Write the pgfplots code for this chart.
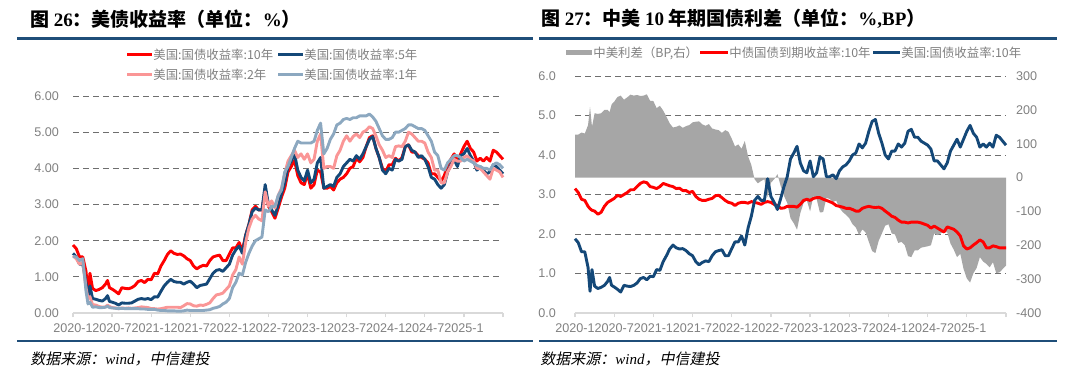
\documentclass[border=0pt]{standalone}
\usepackage{fontspec}
\usepackage{pgfplots}
\usepackage{pgfplotstable}
\pgfplotsset{compat=1.18}
\setmainfont{Liberation Sans}
\newfontfamily\cjk{Noto Sans CJK SC}
\newfontfamily\cjkit{Noto Sans CJK SC}[FakeSlant=0.2]
\newfontfamily\tnr{Liberation Serif}

\definecolor{cRed}{RGB}{255,0,0}
\definecolor{cNavy}{RGB}{20,72,120}
\definecolor{cPink}{RGB}{250,150,150}
\definecolor{cLBlue}{RGB}{140,168,192}
\definecolor{cArea}{RGB}{166,166,166}
\definecolor{cRule}{RGB}{31,78,121}
\definecolor{cTick}{RGB}{128,128,128}
\definecolor{cGrid}{RGB}{110,110,110}
\definecolor{cAxis}{RGB}{217,217,217}
\definecolor{cLeg}{RGB}{128,128,128}

% US Treasury yields: m = months since 2020-01
\pgfplotstableread{
m t10 t5 t2 t1
0 1.88 1.65 1.58 1.56
0.5 1.78 1.55 1.50 1.55
1 1.55 1.35 1.35 1.45
1.5 1.55 1.35 1.40 1.50
2 1.15 0.85 0.70 0.60
2.3 0.55 0.45 0.40 0.25
2.6 1.10 0.75 0.45 0.30
3 0.68 0.40 0.23 0.16
3.5 0.62 0.38 0.22 0.17
4 0.65 0.35 0.18 0.15
4.5 0.70 0.33 0.16 0.15
5 0.80 0.40 0.17 0.16
5.3 0.90 0.48 0.22 0.19
5.6 0.70 0.32 0.18 0.15
6 0.66 0.30 0.15 0.14
6.5 0.60 0.27 0.14 0.13
7 0.53 0.22 0.12 0.12
7.5 0.70 0.28 0.14 0.13
8 0.68 0.27 0.13 0.12
8.5 0.67 0.27 0.14 0.12
9 0.70 0.28 0.13 0.12
9.5 0.76 0.33 0.14 0.12
10 0.87 0.38 0.15 0.12
10.5 0.90 0.40 0.17 0.11
11 0.84 0.38 0.16 0.11
11.5 0.93 0.40 0.15 0.10
12 0.92 0.37 0.12 0.10
12.5 1.10 0.45 0.12 0.10
13 1.08 0.44 0.11 0.08
13.5 1.30 0.60 0.12 0.07
14 1.45 0.75 0.14 0.07
14.5 1.62 0.85 0.16 0.06
15 1.72 0.93 0.16 0.06
15.5 1.65 0.87 0.16 0.06
16 1.62 0.85 0.16 0.05
16.5 1.63 0.85 0.15 0.05
17 1.58 0.80 0.20 0.06
17.5 1.50 0.85 0.26 0.08
18 1.45 0.88 0.25 0.07
18.5 1.30 0.80 0.20 0.07
19 1.22 0.70 0.19 0.07
19.5 1.28 0.76 0.22 0.07
20 1.32 0.78 0.21 0.07
20.5 1.30 0.80 0.24 0.08
21 1.45 0.95 0.28 0.09
21.5 1.55 1.10 0.40 0.13
22 1.58 1.18 0.50 0.15
22.5 1.60 1.20 0.52 0.18
23 1.45 1.15 0.55 0.25
23.5 1.45 1.25 0.65 0.30
24 1.63 1.35 0.75 0.40
24.5 1.80 1.60 1.05 0.70
25 1.80 1.75 1.20 0.85
25.5 1.95 1.85 1.55 1.10
26 1.72 1.65 1.35 1.05
26.5 2.15 2.15 1.95 1.40
27 2.45 2.45 2.35 1.65
27.5 2.85 2.80 2.60 1.85
28 2.95 2.90 2.70 2.00
28.5 2.85 2.85 2.60 2.05
29 2.85 2.85 2.55 2.10
29.5 3.40 3.55 3.35 2.85
30 2.95 3.00 2.95 2.80
30.5 2.80 2.85 3.10 2.95
31 2.62 2.70 2.90 2.95
31.5 2.90 3.00 3.25 3.25
32 3.20 3.30 3.45 3.40
32.5 3.45 3.60 3.85 3.90
33 3.90 4.05 4.20 4.05
33.5 4.05 4.20 4.35 4.30
34 4.22 4.40 4.50 4.55
34.5 3.80 3.95 4.30 4.75
35 3.60 3.75 4.40 4.70
35.5 3.55 3.65 4.25 4.70
36 3.85 3.95 4.40 4.70
36.5 3.45 3.60 4.15 4.70
37 3.55 3.70 4.25 4.75
37.5 3.95 4.15 4.75 5.05
38 3.90 4.30 4.95 5.25
38.5 3.45 3.45 4.00 4.40
39 3.45 3.50 4.05 4.55
39.5 3.50 3.55 4.05 4.80
40 3.40 3.50 4.00 4.95
40.5 3.60 3.75 4.35 5.20
41 3.70 3.85 4.50 5.25
41.5 3.75 4.05 4.75 5.35
42 3.85 4.15 4.90 5.38
42.5 4.00 4.25 4.75 5.35
43 4.05 4.20 4.88 5.40
43.5 4.28 4.35 4.95 5.40
44 4.18 4.25 4.85 5.45
44.5 4.30 4.40 5.00 5.45
45 4.60 4.60 5.05 5.45
45.5 4.85 4.80 5.15 5.50
46 4.90 4.88 5.10 5.42
46.5 4.55 4.55 4.90 5.30
47 4.30 4.30 4.65 5.10
47.5 4.00 3.95 4.50 4.90
48 3.90 3.85 4.30 4.80
48.5 4.10 4.00 4.35 4.80
49 4.10 3.95 4.30 4.85
49.5 4.28 4.25 4.60 5.00
50 4.20 4.20 4.62 5.00
50.5 4.30 4.25 4.60 5.05
51 4.60 4.60 4.75 5.10
51.5 4.65 4.65 5.00 5.20
52 4.45 4.50 4.95 5.20
52.5 4.45 4.45 4.85 5.15
53 4.35 4.30 4.75 5.10
53.5 4.30 4.35 4.75 5.10
54 4.25 4.25 4.70 5.05
54.5 4.15 4.05 4.45 4.90
55 3.85 3.75 4.30 4.75
55.5 3.85 3.70 3.95 4.45
56 3.75 3.55 3.95 4.35
56.5 3.65 3.45 3.60 4.00
57 3.80 3.55 3.60 3.95
57.5 4.10 3.90 3.90 4.15
58 4.25 4.10 4.05 4.25
58.5 4.40 4.25 4.25 4.35
59 4.20 4.05 4.20 4.35
59.5 4.40 4.35 4.20 4.30
60 4.60 4.40 4.30 4.20
60.5 4.75 4.55 4.35 4.25
61 4.55 4.35 4.25 4.20
61.5 4.45 4.20 4.20 4.15
62 4.20 3.95 4.00 4.08
62.5 4.28 4.05 4.00 4.05
63 4.20 3.95 3.90 4.00
63.5 4.30 3.85 3.80 4.00
64 4.20 3.90 3.70 3.95
64.5 4.50 4.10 4.00 4.10
65 4.45 4.05 3.95 4.15
65.5 4.35 3.95 3.90 4.10
66 4.25 3.85 3.75 4.00
}\us

% China 10Y yield and CN-US spread (bp)
\pgfplotstableread{
m cn spread
0 3.15 127
0.5 3.05 127
1 2.88 133
1.5 2.85 130
2 2.70 155
2.3 2.64 209
2.6 2.60 150
3 2.58 190
3.5 2.50 188
4 2.55 190
4.5 2.70 200
5 2.80 200
5.3 2.83 193
5.6 2.86 216
6 2.90 224
6.5 2.98 238
7 2.95 242
7.5 3.00 230
8 3.05 237
8.5 3.12 245
9 3.12 242
9.5 3.20 244
10 3.28 241
10.5 3.32 242
11 3.30 246
11.5 3.20 227
12 3.18 226
12.5 3.15 205
13 3.20 212
13.5 3.28 198
14 3.25 180
14.5 3.22 160
15 3.20 148
15.5 3.15 150
16 3.16 154
16.5 3.10 147
17 3.10 152
17.5 3.05 155
18 3.08 163
18.5 2.95 165
19 2.88 166
19.5 2.85 157
20 2.85 153
20.5 2.88 158
21 2.90 145
21.5 2.97 142
22 2.98 140
22.5 2.92 132
23 2.85 140
23.5 2.80 135
24 2.78 115
24.5 2.72 92
25 2.78 98
25.5 2.80 85
26 2.80 108
26.5 2.78 63
27 2.82 37
27.5 2.80 -5
28 2.78 -17
28.5 2.75 -10
29 2.80 -5
29.5 2.82 -58
30 2.80 -15
30.5 2.75 -5
31 2.72 10
31.5 2.65 -25
32 2.66 -54
32.5 2.70 -75
33 2.70 -120
33.5 2.70 -135
34 2.68 -154
34.5 2.75 -105
35 2.85 -75
35.5 2.88 -67
36 2.85 -100
36.5 2.90 -55
37 2.92 -63
37.5 2.92 -103
38 2.88 -102
38.5 2.85 -60
39 2.82 -63
39.5 2.78 -72
40 2.72 -68
40.5 2.70 -90
41 2.68 -102
41.5 2.65 -110
42 2.65 -120
42.5 2.62 -138
43 2.58 -147
43.5 2.58 -170
44 2.65 -153
44.5 2.68 -162
45 2.70 -190
45.5 2.68 -217
46 2.67 -223
46.5 2.68 -187
47 2.65 -165
47.5 2.58 -142
48 2.52 -138
48.5 2.45 -165
49 2.42 -168
49.5 2.35 -193
50 2.30 -190
50.5 2.30 -200
51 2.28 -232
51.5 2.30 -235
52 2.30 -215
52.5 2.30 -215
53 2.28 -207
53.5 2.25 -205
54 2.22 -203
54.5 2.15 -200
55 2.20 -165
55.5 2.15 -170
56 2.10 -165
56.5 2.05 -160
57 2.18 -162
57.5 2.15 -195
58 2.12 -213
58.5 2.05 -235
59 1.95 -225
59.5 1.70 -270
60 1.62 -298
60.5 1.65 -310
61 1.72 -283
61.5 1.78 -267
62 1.85 -235
62.5 1.80 -248
63 1.65 -255
63.5 1.65 -265
64 1.70 -250
64.5 1.68 -282
65 1.65 -280
65.5 1.65 -270
66 1.65 -260
}\cnt

\pgfplotsset{
  base/.style={scale only axis, anchor=south west, xmin=0, xmax=66,
    tick label style={font=\fontsize{6.3pt}{7pt}\selectfont, text=cTick},
    clip=false},
  timex/.style={axis x line*=bottom, axis y line*=left,
    every outer x axis line/.append style={-},
    every outer y axis line/.append style={-},
    x axis line style={-, draw=cAxis, line width=0.6pt},
    y axis line style={draw=none},
    xtick={0,6,...,66},
    xticklabels={2020-1,2020-7,2021-1,2021-7,2022-1,2022-7,2023-1,2023-7,2024-1,2024-7,2025-1,{}},
    xtick style={draw=cAxis, line width=0.6pt},
    tick align=outside, major tick length=2pt,
    ytick style={draw=none},
    ymajorgrids, grid style={densely dashed, cGrid, line width=0.45pt},
    extra y ticks={0}, extra y tick style={grid=none},
    yticklabel style={xshift=-1.5pt}},
  ser/.style={line width=1.45pt, line join=round}
}

\begin{document}
\begin{tikzpicture}
\path[use as bounding box] (0,0) rectangle (540pt,190pt);

% ---------- Titles and rules ----------
\node[anchor=west, inner sep=0] at (15pt,180.5pt)
  {\fontsize{9.5pt}{11pt}\selectfont\cjk\bfseries 图 {\tnr\bfseries 26}：美债收益率（单位：{\tnr\bfseries\%}）};
\node[anchor=west, inner sep=0] at (270.5pt,180.5pt)
  {\fontsize{9.5pt}{11pt}\selectfont\cjk\bfseries 图 {\tnr\bfseries 27}：中美 {\tnr\bfseries 10} 年期国债利差（单位：{\tnr\bfseries\%,BP}）};
\draw[cRule, line width=1.5pt] (8.5pt,170.5pt) -- (266.5pt,170.5pt);
\draw[cRule, line width=1.5pt] (269.5pt,170.5pt) -- (528.5pt,170.5pt);
\draw[cRule, line width=1.2pt] (8.5pt,19.5pt) -- (266.5pt,19.5pt);
\draw[cRule, line width=1.2pt] (269.5pt,19.5pt) -- (528.5pt,19.5pt);
\node[anchor=west, inner sep=0] at (15pt,10.5pt)
  {\fontsize{7.5pt}{9pt}\selectfont\cjkit 数据来源：{\tnr\itshape wind}，中信建投};
\node[anchor=west, inner sep=0] at (270pt,10.5pt)
  {\fontsize{7.5pt}{9pt}\selectfont\cjkit 数据来源：{\tnr\itshape wind}，中信建投};

% ---------- Legends ----------
\begin{scope}[every node/.style={anchor=west, inner sep=0, text=cLeg, font=\fontsize{6.2pt}{7pt}\selectfont\cjk}]
\draw[cRed, line width=1.5pt] (63.5pt,162.5pt) -- (76pt,162.5pt);
\node at (76.5pt,162.5pt) {美国:国债收益率:10年};
\draw[cNavy, line width=1.5pt] (139pt,162.5pt) -- (151.5pt,162.5pt);
\node at (152pt,162.5pt) {美国:国债收益率:5年};
\draw[cPink, line width=1.5pt] (63.5pt,152.5pt) -- (76pt,152.5pt);
\node at (76.5pt,152.5pt) {美国:国债收益率:2年};
\draw[cLBlue, line width=1.5pt] (139pt,152.5pt) -- (151.5pt,152.5pt);
\node at (152pt,152.5pt) {美国:国债收益率:1年};
\draw[cArea, line width=2.5pt] (283pt,163.5pt) -- (296pt,163.5pt);
\node at (296.5pt,163.5pt) {中美利差（BP,右）};
\draw[cRed, line width=1.5pt] (350pt,163.5pt) -- (364pt,163.5pt);
\node at (364.5pt,163.5pt) {中债国债到期收益率:10年};
\draw[cNavy, line width=1.5pt] (436.5pt,163.5pt) -- (450pt,163.5pt);
\node at (450.5pt,163.5pt) {美国:国债收益率:10年};
\end{scope}

% ---------- Left chart ----------
\begin{axis}[base, timex, at={(36.5pt,33.5pt)}, width=215pt, height=108.5pt,
  ymin=0, ymax=6, ytick={1,2,3,4,5,6},
  yticklabels={1.00,2.00,3.00,4.00,5.00,6.00}, extra y tick labels={0.00}]
\addplot[ser, cRed] table[x=m, y=t10] {\us};
\addplot[ser, cNavy] table[x=m, y=t5] {\us};
\addplot[ser, cPink] table[x=m, y=t2] {\us};
\addplot[ser, cLBlue] table[x=m, y=t1] {\us};
\end{axis}

% ---------- Right chart: grid, left labels, x axis ----------
\begin{axis}[base, timex, at={(287.5pt,33.5pt)}, width=215.5pt, height=118.5pt,
  ymin=0, ymax=6, ytick={1,2,3,4,5,6},
  yticklabels={1.0,2.0,3.0,4.0,5.0,6.0}, extra y tick labels={0.0},
  yticklabel style={xshift=-2.5pt}]
\end{axis}
% spread area (right axis)
\begin{axis}[base, at={(287.5pt,33.5pt)}, width=215.5pt, height=118.5pt,
  ymin=-400, ymax=300, hide x axis, axis y line*=right,
  every outer y axis line/.append style={-},
  y axis line style={draw=none}, ytick style={draw=none},
  ytick={-400,-300,-200,-100,0,100,200,300},
  yticklabels={-400,-300,-200,-100,0,100,200,300},
  yticklabel style={xshift=1.5pt}]
\addplot[fill=cArea, draw=none] table[x=m, y=spread] {\cnt} \closedcycle;
\end{axis}
% yield lines (left axis)
\begin{axis}[base, hide axis, at={(287.5pt,33.5pt)}, width=215.5pt, height=118.5pt,
  ymin=0, ymax=6]
\addplot[ser, cRed] table[x=m, y=cn] {\cnt};
\addplot[ser, cNavy] table[x=m, y=t10] {\us};
\end{axis}
\end{tikzpicture}
\end{document}
